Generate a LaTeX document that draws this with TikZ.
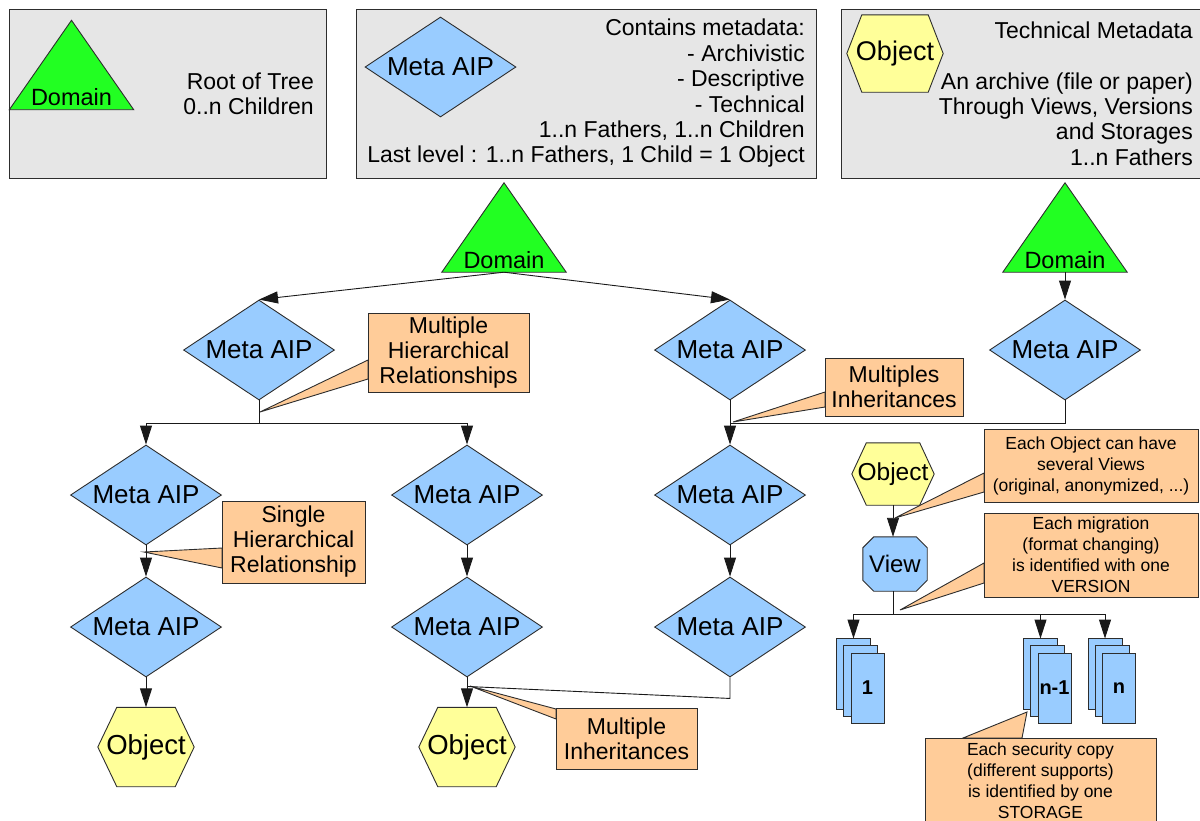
\documentclass[tikz,border=0pt]{standalone}
\usepackage{fontspec}
\setmainfont{Liberation Sans}
\usetikzlibrary{shapes.geometric,arrows.meta,calc}
\pgfdeclarelayer{back}
\pgfdeclarelayer{shape}
\pgfsetlayers{back,shape,main}
\definecolor{dgreen}{RGB}{34,255,34}
\definecolor{mblue}{RGB}{153,204,255}
\definecolor{oyellow}{RGB}{255,255,153}
\definecolor{corange}{RGB}{255,204,153}
\definecolor{hgray}{RGB}{230,230,230}
\definecolor{edgec}{RGB}{45,45,45}
\newcommand\fsz[2]{\fontsize{#1pt}{#2pt}\selectfont}
\tikzset{
  outl/.style={draw=edgec, line width=0.9pt},
  ln/.style={draw=black!90, line width=0.9pt},
  arr/.style={ln, -{Triangle[length=19pt,width=12pt]}},
  hbox/.style={rectangle, outl, fill=hgray, inner sep=0pt},
  htext/.style={align=right, inner sep=0pt, font=\fsz{23}{25.4}},
  diam/.style={diamond, aspect=1.51, minimum width=151pt, minimum height=100pt, inner sep=0pt, outl, fill=mblue, font=\fsz{26}{28}},
  tri/.style={rectangle, minimum width=124pt, minimum height=89pt, inner sep=0pt, text height=85pt, text depth=4pt, font=\fsz{23.5}{25},
    append after command={\pgfextra{\begin{pgfonlayer}{shape}\draw[outl, fill=dgreen] (\tikzlastnode.north) -- (\tikzlastnode.south west) -- (\tikzlastnode.south east) -- cycle;\end{pgfonlayer}}}},
  hexa/.style n args={3}{rectangle, minimum width=#1, minimum height=#2, inner sep=0pt,
    append after command={\pgfextra{\begin{pgfonlayer}{shape}\draw[outl, fill=oyellow] (\tikzlastnode.west) -- ($(\tikzlastnode.north west)+(#3,0)$) -- ($(\tikzlastnode.north east)+(-#3,0)$) -- (\tikzlastnode.east) -- ($(\tikzlastnode.south east)+(-#3,0)$) -- ($(\tikzlastnode.south west)+(#3,0)$) -- cycle;\end{pgfonlayer}}}},
  octa/.style n args={3}{rectangle, minimum width=#1, minimum height=#2, inner sep=0pt,
    append after command={\pgfextra{\begin{pgfonlayer}{shape}\draw[outl, fill=mblue] ($(\tikzlastnode.north west)+(#3,0)$) -- ($(\tikzlastnode.north east)+(-#3,0)$) -- ($(\tikzlastnode.north east)+(0,#3)$) -- ($(\tikzlastnode.south east)+(0,-#3)$) -- ($(\tikzlastnode.south east)+(-#3,0)$) -- ($(\tikzlastnode.south west)+(#3,0)$) -- ($(\tikzlastnode.south west)+(0,-#3)$) -- ($(\tikzlastnode.north west)+(0,#3)$) -- cycle;\end{pgfonlayer}}}},
  sheet/.style={rectangle, minimum width=33pt, minimum height=70pt, inner sep=0pt, outl, fill=mblue, font=\bfseries\fsz{20}{22},
    append after command={\pgfextra{\begin{pgfonlayer}{shape}
      \draw[outl, fill=mblue] ($(\tikzlastnode.north west)+(-14,-14)$) rectangle ($(\tikzlastnode.south east)+(-14,-14)$);
      \fill[edgec] ($(\tikzlastnode.south east)+(-20,-14)$) -- ($(\tikzlastnode.south east)+(-14,-20)$) -- ($(\tikzlastnode.south east)+(-14,-14)$) -- cycle;
      \draw[outl, fill=mblue] ($(\tikzlastnode.north west)+(-7,-7)$) rectangle ($(\tikzlastnode.south east)+(-7,-7)$);
      \fill[edgec] ($(\tikzlastnode.south east)+(-13,-7)$) -- ($(\tikzlastnode.south east)+(-7,-13)$) -- ($(\tikzlastnode.south east)+(-7,-7)$) -- cycle;
      \end{pgfonlayer}
      \fill[edgec] ($(\tikzlastnode.south east)+(-6,0)$) -- ($(\tikzlastnode.south east)+(0,-6)$) -- (\tikzlastnode.south east) -- cycle;}}},
  cbox/.style={rectangle, outl, fill=corange, align=center, inner sep=2pt, font=\fsz{23}{25}},
  cboxs/.style={cbox, font=\fsz{17.5}{21}},
  wedge/.style={outl, fill=corange}
}
\begin{document}
\begin{tikzpicture}[x=1pt,y=-1pt]
\useasboundingbox (0,0) rectangle (1200,820);
% header boxes
\begin{pgfonlayer}{back}
\node[hbox, minimum width=317pt, minimum height=169pt] (hb1) at (167.5,93.5) {};
\node[hbox, minimum width=460pt, minimum height=169pt] (hb2) at (586,93.5) {};
\node[hbox, minimum width=363pt, minimum height=169pt] (hb3) at (1022.5,93.5) {};
\end{pgfonlayer}
\node[tri] (htri) at (71.5,65) {Domain};
\node[htext, anchor=east] (ht1) at (314,93.5) {Root of Tree\\0..n Children};
\node[diam] (hdia) at (440.5,67) {Meta AIP};
\node[htext, anchor=east] (ht2) at (805,93.5) {Contains metadata:\\- Archivistic\\- Descriptive\\- Technical\\1..n Fathers, 1..n Children\\Last level : 1..n Fathers, 1 Child = 1 Object};
\node[hexa={96pt}{77pt}{15}, font=\fsz{27}{28}] (hobj) at (895,53.5) {Object};
\node[htext, anchor=east] (ht3) at (1193,93.5) {Technical Metadata\\\mbox{}\\An archive (file or paper)\\Through Views, Versions\\and Storages\\1..n Fathers};

% main tree
\node[tri] (dom) at (504,227.5) {Domain};
\node[tri] (domR) at (1065,227.5) {Domain};
\node[diam] (a1) at (259,350) {Meta AIP};
\node[diam] (b1) at (730,350) {Meta AIP};
\node[diam] (c1) at (1065,350) {Meta AIP};
\node[diam] (m21) at (146,495) {Meta AIP};
\node[diam] (m22) at (467,495) {Meta AIP};
\node[diam] (m23) at (730,495) {Meta AIP};
\node[diam] (m31) at (146,627) {Meta AIP};
\node[diam] (m32) at (467,627) {Meta AIP};
\node[diam] (m33) at (730,627) {Meta AIP};
\node[hexa={96pt}{79pt}{19}, font=\fsz{27.5}{28}] (o1) at (146,747) {Object};
\node[hexa={96pt}{79pt}{19}, font=\fsz{27.5}{28}] (o2) at (467,747) {Object};

% right branch
\node[hexa={82pt}{62pt}{14.5}, font=\fsz{24.5}{26}] (objR) at (893,474) {Object};
\node[octa={64pt}{54pt}{11}, font=\fsz{24}{26}] (view) at (895,564) {View};
\node[sheet] (s1) at (867.5,688) {1};
\node[sheet] (s2) at (1054.5,688) {n-1};
\node[sheet] (s3) at (1119,688) {n};

% connectors
\draw[arr] (dom.south) -- (a1.north);
\draw[arr] (dom.south) -- (b1.north);
\draw[arr] (domR.south) -- (c1.north);
\coordinate (j1) at ($(a1.south)+(0,23)$);
\draw[ln] (a1.south) -- (j1);
\draw[arr] (j1) -| (m21.north);
\draw[arr] (j1) -| (m22.north);
\draw[arr] (b1.south) -- (m23.north);
\coordinate (j2) at ($(b1.south)+(0,23)$);
\draw[ln] (c1.south) |- (j2);
\draw[arr] (m21.south) -- (m31.north);
\draw[arr] (m22.south) -- (m32.north);
\draw[arr] (m23.south) -- (m33.north);
\draw[arr] (m31.south) -- (o1.north);
\draw[arr] (m32.south) -- (o2.north);
\coordinate (j3a) at ($(m33.south)+(0,21)$);
\coordinate (j3) at ($(m32.south)+(0,9)$);
\draw[ln] (m33.south) -- (j3a) -- (j3);
\draw[arr] (objR.south) -- (objR.south |- view.north);
\coordinate (j4) at ($(objR.south |- view.south)+(0,23)$);
\draw[ln] (objR.south |- view.south) -- (j4);
\coordinate (s1t) at ($(s1.north)+(-14,-14)$);
\coordinate (s2t) at ($(s2.north)+(-14,-14)$);
\coordinate (s3t) at ($(s3.north)+(-14,-14)$);
\draw[arr] (j4) -| (s1t);
\draw[arr] (j4) -| (s2t);
\draw[arr] (j4) -| (s3t);

% callouts
\coordinate (t1) at (260,412);
\coordinate (t2) at (144,552);
\coordinate (t3) at (733,422);
\coordinate (t4) at (470,686);
\coordinate (t5) at (895,518);
\coordinate (t6) at (900,610);
\coordinate (t7) at (1027,712);
\begin{pgfonlayer}{shape}
\filldraw[wedge] (t1) -- (368,360) -- (368,379) -- cycle;
\filldraw[wedge] (t2) -- (222,548) -- (222,568) -- cycle;
\filldraw[wedge] (t3) -- (825,392) -- (825,407) -- cycle;
\filldraw[wedge] (t4) -- (556,709) -- (556,719) -- cycle;
\filldraw[wedge] (t5) -- (984,473) -- (984,492) -- cycle;
\filldraw[wedge] (t6) -- (984,563) -- (984,583) -- cycle;
\filldraw[wedge] (t7) -- (963,738) -- (1022,738) -- cycle;
\end{pgfonlayer}
\node[cbox, minimum width=161pt, minimum height=79pt] (c1b) at (448.5,352.5) {Multiple\\Hierarchical\\Relationships};
\node[cbox, minimum width=143pt, minimum height=82pt] (c2b) at (293.5,542) {Single\\Hierarchical\\Relationship};
\node[cbox, minimum width=138pt, minimum height=58pt] (c3b) at (894,387) {Multiples\\Inheritances};
\node[cbox, minimum width=141pt, minimum height=61pt] (c4b) at (626.5,738.5) {Multiple\\Inheritances};
\node[cboxs, minimum width=214pt, minimum height=73pt] (c5b) at (1091,465.5) {Each Object can have\\several Views\\(original, anonymized, ...)};
\node[cboxs, minimum width=214pt, minimum height=84pt] (c6b) at (1091,555) {Each migration\\(format changing)\\is identified with one\\VERSION};
\node[cboxs, minimum width=231pt, anchor=north, inner ysep=4pt] (c7b) at (1040.5,738) {Each security copy\\(different supports)\\is identified by one\\STORAGE\\[-2pt]\mbox{}};
\end{tikzpicture}
\end{document}
